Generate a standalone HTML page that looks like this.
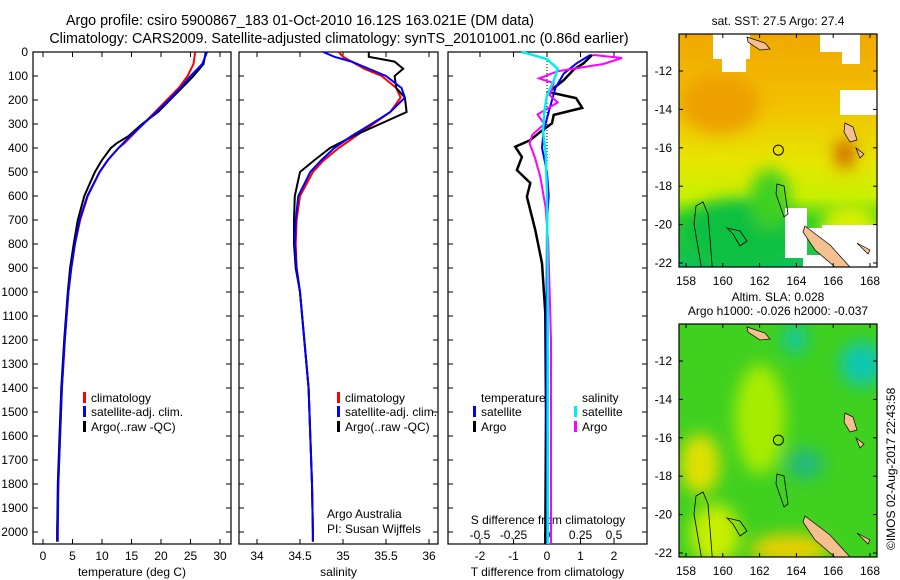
<!DOCTYPE html>
<html><head><meta charset="utf-8"><style>
html,body{margin:0;padding:0;background:#fff}
svg{display:block;font-family:"Liberation Sans",sans-serif}
</style></head><body>
<svg id="c" width="900" height="580" viewBox="0 0 900 580" xmlns="http://www.w3.org/2000/svg">
<defs>
<linearGradient id="sstg" x1="0" y1="0" x2="0" y2="1">
<stop offset="0" stop-color="#f0a800"/><stop offset="0.3" stop-color="#f2c000"/><stop offset="0.55" stop-color="#e6e600"/><stop offset="0.7" stop-color="#c8f000"/><stop offset="0.8" stop-color="#30d020"/><stop offset="1" stop-color="#10c060"/></linearGradient>
<filter id="bl"><feGaussianBlur stdDeviation="8"/></filter>
<clipPath id="m1"><rect x="679" y="34" width="198" height="233"/></clipPath>
<clipPath id="m2"><rect x="679" y="324" width="198" height="233"/></clipPath>
</defs>
<g id="plots"></g>
</svg>
<script>
// ---- data ----
const tDepth=[0,50,100,150,200,250,300,350,380,400,450,500,600,700,800,900,1000,1200,1400,1600,1800,2000,2040];
const tArgo=[27.6,27.2,25.5,23.5,21.5,19.5,16.8,14.5,12.5,11.5,10,8.8,7.0,5.9,5.2,4.6,4.2,3.6,3.1,2.8,2.5,2.4,2.4];
const tClim=[25.8,25.5,24.5,23,21,19,17,15,13.8,12.8,11,9.6,7.6,6.3,5.4,4.8,4.3,3.7,3.2,2.9,2.6,2.4,2.4];
const tSat=[27.8,27,25,23.3,21.3,19.2,17,14.8,13.6,12.8,11,9.6,7.5,6.2,5.4,4.8,4.3,3.7,3.2,2.9,2.6,2.5,2.5];
const sDepth=[0,20,40,70,100,150,190,250,300,350,400,450,500,600,700,800,900,1000,1200,1400,1600,1800,2000,2040];
const sArgo=[35.30,35.30,35.6,35.7,35.6,35.62,35.72,35.74,35.43,35.12,34.85,34.67,34.5,34.44,34.43,34.43,34.45,34.5,34.55,34.6,34.62,34.64,34.65,34.65];
const sClim=[34.95,35.0,35.1,35.25,35.45,35.62,35.67,35.55,35.35,35.15,34.95,34.78,34.65,34.5,34.46,34.45,34.46,34.5,34.55,34.6,34.62,34.64,34.65,34.65];
const sSat=[34.77,34.9,35.1,35.3,35.5,35.68,35.72,35.55,35.33,35.1,34.9,34.75,34.62,34.48,34.45,34.44,34.46,34.5,34.55,34.6,34.62,34.64,34.65,34.65];
const dTDepth=[12,46,73,117,167,192,233,262,297,333,367,395,437,492,546,603,742,880,1088,1500,2050];
const dTArgo=[1.35,1.1,0.8,0.5,0.05,0.87,1.05,0.2,0.15,-0.2,-0.5,-0.95,-0.75,-0.9,-0.5,-0.6,-0.35,-0.15,-0.05,-0.03,-0.05];
const dTSatDepth=[12,46,90,150,250,330,400,500,600,700,1200,2050];
const dTSat=[1.3,0.9,0.5,0.25,0.05,-0.1,-0.15,0,0.05,0,-0.02,0];
const dSDepth=[12,25,50,80,110,130,180,210,260,300,345,380,440,520,650,800,1200,2050];
const dSArgo=[0.34,0.56,0.42,0.08,-0.06,0.05,0.02,0.08,-0.07,-0.02,-0.11,-0.13,-0.09,-0.05,-0.01,0.01,0.03,0.03];
const dSSatDepth=[0,5,30,70,120,180,250,330,420,600,1000,2050];
const dSSat=[-0.19,-0.15,0,0.08,0.05,0,-0.02,-0.03,-0.01,0,0.005,0.005];
const depthTicks=[0,100,200,300,400,500,600,700,800,900,1000,1100,1200,1300,1400,1500,1600,1700,1800,1900,2000];
const tTicks=[0,5,10,15,20,25,30];
const sTicks=[34,34.5,35,35.5,36];
const sTickLabels=["34","34.5","35","35.5","36"];
const dTTicks=[-2,-1,0,1,2];
const dSTicks=[-0.5,-0.25,0,0.25,0.5];
const dSTickLabels=["-0.5","-0.25","0","0.25","0.5"];
const lonTicks=[158,160,162,164,166,168];
const latTicks=[-12,-14,-16,-18,-20,-22];
// ---- axes ----
const Y0=52,YS=0.24,BOT=544;
const yD=d=>Y0+d*YS;
const xT=t=>43+t*5.9;
const xS=s=>257+(s-34)*86;
const xDT=t=>547+t*33.5;
const xDS=s=>547+s*134;
const xLon=l=>686+(l-158)*18.4;
const yLat1=a=>71+(-12-a)*19.2;
const yLat2=a=>361+(-12-a)*19.2;
const NS="http://www.w3.org/2000/svg";
const g=document.getElementById('plots');
function mk(tag,at,parent){const e=document.createElementNS(NS,tag);for(const k in at)e.setAttribute(k,at[k]);(parent||g).appendChild(e);return e;}
function txt(x,y,s,anchor,size,parent){const e=mk('text',{x:x,y:y,'font-size':size||12,'text-anchor':anchor||'start',fill:'#000'},parent);e.textContent=s;return e;}
function line(xs,ys,xf,col,w,name){let p='';for(let i=0;i<xs.length;i++)p+=(i?'L':'M')+xf(xs[i]).toFixed(1)+' '+yD(ys[i]).toFixed(1);const e=mk('path',{d:p,fill:'none',stroke:col,'stroke-width':w||2});

return e;}
// titles
let t1=txt(300,25,"Argo profile: csiro 5900867_183 01-Oct-2010 16.12S 163.021E (DM data)","middle",14.3);


let t2=txt(339,43,"Climatology: CARS2009. Satellite-adjusted climatology: synTS_20101001.nc (0.86d earlier)","middle",14.3);


function panel(x0,x1,name,xticks,xf,labels,xlabel){
 const r=mk('rect',{x:x0,y:Y0,width:x1-x0,height:BOT-Y0,fill:'#fff',stroke:'#000','stroke-width':1.2});
 
 
 depthTicks.forEach(d=>{mk('line',{x1:x0,x2:x0+5,y1:yD(d),y2:yD(d),stroke:'#000'});mk('line',{x1:x1,x2:x1-5,y1:yD(d),y2:yD(d),stroke:'#000'});});
 xticks.forEach((v,i)=>{const x=xf(v);mk('line',{x1:x,x2:x,y1:Y0,y2:Y0+5,stroke:'#000'});mk('line',{x1:x,x2:x,y1:BOT,y2:BOT-5,stroke:'#000'});
  const l=txt(x,560,labels[i],'middle',12);
  
  });
 const xl=txt((x0+x1)/2,576,xlabel,'middle',12);
 
 
}
panel(33,231,'temperature-panel',tTicks,xT,tTicks.map(String),'temperature (deg C)');
panel(239,438,'salinity-panel',sTicks,xS,sTickLabels,'salinity');
panel(448,647,'difference-panel',dTTicks,xDT,dTTicks.map(String),'T difference from climatology');
depthTicks.forEach(d=>{const l=txt(28,yD(d)+4,String(d),'end',12);
 
 });
dSTicks.forEach((v,i)=>{const l=txt(xDS(v),539,dSTickLabels[i],'middle',12);
 
 });
let sdl=txt(548,524,"S difference from climatology","middle",12);


mk('line',{x1:547,x2:547,y1:Y0,y2:BOT,stroke:'#000','stroke-dasharray':'1 2'});
// series
line(tClim,tDepth,xT,'#f00',2,'temp-climatology-line');
line(tArgo,tDepth,xT,'#000',2,'temp-argo-line');
line(tSat,tDepth,xT,'#00f',2,'temp-satellite-line');
line(sClim,sDepth,xS,'#f00',2,'sal-climatology-line');
line(sArgo,sDepth,xS,'#000',2,'sal-argo-line');
line(sSat,sDepth,xS,'#00f',2,'sal-satellite-line');
line(dTArgo,dTDepth,xDT,'#000',2.5,'tdiff-argo-line');
line(dTSat,dTSatDepth,xDT,'#00f',2,'tdiff-satellite-line');
line(dSArgo,dSDepth,xDS,'#f0f',2,'sdiff-argo-line');
line(dSSat,dSSatDepth,xDS,'#0ee',2.5,'sdiff-satellite-line');
// legends
function leg(x,y,col,label,name){if(col)mk('rect',{x:x-8,y:y-10,width:3,height:11,fill:col});const l=txt(x,y,label,'start',12);
 
 }
leg(91,402,'#f00','climatology','legend-climatology');
leg(91,416,'#00f','satellite-adj. clim.','legend-satellite');
leg(91,431,'#000','Argo(..raw -QC)','legend-argo');
leg(345,402,'#f00','climatology','legend2-climatology');
leg(345,416,'#00f','satellite-adj. clim.','legend2-satellite');
leg(345,431,'#000','Argo(..raw -QC)','legend2-argo');
leg(481,402,null,'temperature','legend-temperature-head');
leg(481,416,'#00f','satellite','legend-t-satellite');
leg(481,431,'#000','Argo','legend-t-argo');
leg(582,402,null,'salinity','legend-salinity-head');
leg(582,416,'#0ee','satellite','legend-s-satellite');
leg(582,431,'#f0f','Argo','legend-s-argo');
let c1=txt(327,518,'Argo Australia','start',12);
let c2=txt(327,533,'PI: Susan Wijffels','start',12);
// maps
function map(y0,yLat,name,titles,bottom){
 const gg=mk('g',{'clip-path':bottom?'url(#m2)':'url(#m1)'});
 
 
 if(!bottom){
  mk('rect',{x:679,y:y0,width:198,height:233,fill:'url(#sstg)'},gg);
  const b=mk('g',{filter:'url(#bl)'},gg);
  mk('ellipse',{cx:720,cy:y0+70,rx:40,ry:30,fill:'#eda000'},b);
  mk('ellipse',{cx:845,cy:y0+120,rx:10,ry:15,fill:'#d06000'},b);
  mk('ellipse',{cx:740,cy:y0+200,rx:60,ry:35,fill:'#10c040'},b);
  mk('ellipse',{cx:770,cy:y0+165,rx:20,ry:30,fill:'#40d020'},b);
  mk('ellipse',{cx:850,cy:y0+195,rx:30,ry:25,fill:'#d8f000'},b);
  [[713,34,37,25],[722,58,24,14],[820,34,40,18],[842,52,18,12],[840,90,37,25],[785,208,22,50],[808,228,14,10],[822,225,55,42],[803,255,30,12]].forEach(r=>mk('rect',{x:r[0],y:r[1],width:r[2],height:r[3],fill:'#fff'},gg));
 } else {
  mk('rect',{x:679,y:y0,width:198,height:233,fill:'#40d020'},gg);
  const b=mk('g',{filter:'url(#bl)'},gg);
  mk('ellipse',{cx:760,cy:y0+95,rx:25,ry:55,fill:'#a8ec00'},b);
  mk('ellipse',{cx:700,cy:y0+140,rx:20,ry:30,fill:'#e0e000'},b);
  mk('ellipse',{cx:790,cy:y0+225,rx:40,ry:15,fill:'#e8d000'},b);
  mk('ellipse',{cx:862,cy:y0+40,rx:22,ry:22,fill:'#10c8b0'},b);
  mk('ellipse',{cx:795,cy:y0+15,rx:12,ry:15,fill:'#10c8a0'},b);
  mk('ellipse',{cx:805,cy:y0+140,rx:18,ry:15,fill:'#20b880'},b);
  mk('ellipse',{cx:715,cy:y0+210,rx:25,ry:30,fill:'#c8ee00'},b);
 }
 const off=y0-34;
 [[[747,37],[765,43],[770,49],[760,50],[748,42]],[[805,226],[830,245],[850,267],[835,267],[815,250],[803,232]],[[845,123],[853,127],[857,140],[850,142],[844,132]],[[856,148],[864,154],[860,158]],[[857,243],[870,250],[868,254]]].forEach(p=>mk('polygon',{points:p.map(q=>q[0]+','+(q[1]+off)).join(' '),fill:'#f4c090',stroke:'#000','stroke-width':0.7},gg));
 mk('path',{d:`M696 ${y0+172} L703 ${y0+168} L708 ${y0+180} L712 ${y0+230} L714 ${y0+262} L706 ${y0+262} L700 ${y0+225} L694 ${y0+190} Z`,fill:'none',stroke:'#000','stroke-width':0.8},gg);
 mk('path',{d:`M777 ${y0+150} L784 ${y0+152} L788 ${y0+180} L784 ${y0+183} L776 ${y0+160} Z`,fill:'none',stroke:'#000','stroke-width':0.8},gg);
 mk('path',{d:`M727 ${y0+194} L740 ${y0+197} L747 ${y0+207} L740 ${y0+212} L733 ${y0+200} Z`,fill:'none',stroke:'#000','stroke-width':0.8},gg);
 const bx=mk('rect',{x:679,y:y0,width:198,height:233,fill:'none',stroke:'#000','stroke-width':1.2});
 
 
 mk('circle',{cx:xLon(163.02),cy:yLat(-16.12),r:5,fill:'none',stroke:'#000'});
 lonTicks.forEach(l=>{const x=xLon(l);mk('line',{x1:x,x2:x,y1:y0+233,y2:y0+229,stroke:'#000'});mk('line',{x1:x,x2:x,y1:y0,y2:y0+4,stroke:'#000'});
  const t=txt(x,y0+251,String(l),'middle',12);});
 latTicks.forEach(a=>{const y=yLat(a);mk('line',{x1:877,x2:873,y1:y,y2:y,stroke:'#000'});mk('line',{x1:679,x2:683,y1:y,y2:y,stroke:'#000'});
  const t=txt(672,y+4,String(a),'end',12);});
 titles.forEach((s,i)=>{const t=txt(778,y0-9+(i-titles.length+1)*14,s,'middle',12);});
}
map(34,yLat1,'sst-map',["sat. SST: 27.5 Argo: 27.4"],false);
map(324,yLat2,'sla-map',["Altim. SLA: 0.028","Argo h1000: -0.026 h2000: -0.037"],true);
const ts=mk('text',{x:0,y:0,'font-size':12,transform:'translate(895,550) rotate(-90)',fill:'#000'});
ts.textContent='©IMOS 02-Aug-2017 22:43:58';


</script>
</body></html>
